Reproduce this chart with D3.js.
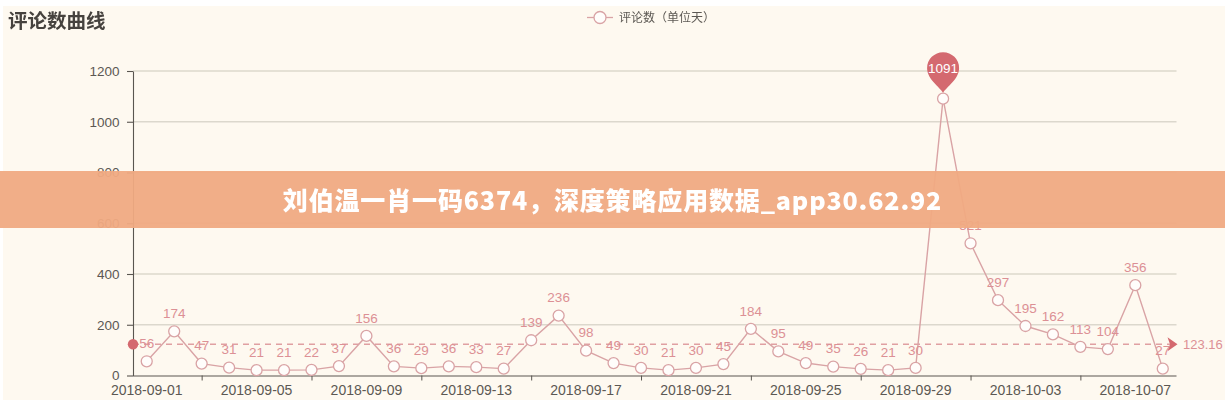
<!DOCTYPE html>
<html><head><meta charset="utf-8">
<script src="https://cdn.jsdelivr.net/npm/d3@7"></script>
<style>
html,body{margin:0;padding:0;background:#fff;overflow:hidden}
text{font-family:"Liberation Sans",Arial,sans-serif}
#c{filter:blur(0.35px)}
</style></head><body>
<svg id="c" width="1225" height="400"></svg>
<script>
const dates = d3.range(38).map(i => d3.timeFormat("%Y-%m-%d")(new Date(2018, 8, 1 + i)));
const reviewCounts = [56,174,47,31,21,21,22,37,156,36,29,36,33,27,139,236,98,49,30,21,30,45,184,95,49,35,26,21,30,1091,521,297,195,162,113,104,356,27];
const yTicks = [0,200,400,600,800,1000,1200];
const xLabelDates = dates.filter((d,i) => i % 4 === 0);
const xTickDates = dates.filter((d,i) => i % 4 === 2);
const meanValue = 123.16;
const titleText = "评论数曲线";
const legendText = "评论数（单位天）";
const bannerText = "刘伯温一肖一码6374，深度策略应用数据_app30.62.92";

const lineCol = "#d9a3a5", labelCol = "#dc9095", markCol = "#d4696f", axisCol = "#5a5650", textCol = "#5c5853";
const svg = d3.select("#c");
svg.append("rect").attr("x",3).attr("y",6).attr("width",1222).attr("height",394).attr("fill","#fef9f0");

const x = d3.scaleBand().domain(dates).range([133,1176.5]);
const y = d3.scaleLinear().domain([0,1200]).range([375.5,71]);
const cx = d => x(d) + x.bandwidth()/2;
const maxValue = d3.max(reviewCounts);
const maxIndex = reviewCounts.indexOf(maxValue);

// grid
svg.append("g").selectAll("line").data(yTicks.slice(1)).join("line")
  .attr("x1",x.range()[0]).attr("x2",x.range()[1])
  .attr("y1",d=>y(d)).attr("y2",d=>y(d))
  .attr("stroke","#dcd8cd").attr("stroke-width",1.3);

// axes
const yAxis = svg.append("g").attr("transform",`translate(${x.range()[0]},0)`)
  .call(d3.axisLeft(y).tickValues(yTicks).tickSize(6).tickPadding(7.5).tickSizeOuter(0).tickFormat(d3.format("d")));
yAxis.selectAll("line,path").attr("stroke",axisCol).attr("stroke-width",1.1);
yAxis.selectAll("text").attr("fill",textCol).attr("font-size",13.5);

const xAxisTicks = svg.append("g").attr("transform",`translate(0,${y(0)})`)
  .call(d3.axisBottom(d3.scalePoint().domain(dates).range([cx(dates[0]),cx(dates[37])])).tickValues(xTickDates).tickSize(5).tickSizeOuter(0).tickFormat(""));
xAxisTicks.selectAll("line").attr("stroke",axisCol);
xAxisTicks.select("path").attr("d",`M${x.range()[0]},0.5H${x.range()[1]}`).attr("stroke",axisCol).attr("stroke-width",1.2);

svg.append("g").selectAll("text").data(xLabelDates).join("text")
  .attr("x",cx).attr("y",y(0)+19.5).attr("text-anchor","middle")
  .attr("font-size",14).attr("fill",textCol).text(d=>d);

// mean line
const mY = y(meanValue);
svg.append("line").attr("x1",x.range()[0]).attr("x2",x.range()[1]-6).attr("y1",mY).attr("y2",mY)
  .attr("stroke","#e0a0a2").attr("stroke-width",1.3).attr("stroke-dasharray","6,5");
svg.append("circle").attr("cx",x.range()[0]).attr("cy",mY).attr("r",5.2).attr("fill",markCol);
svg.append("path").attr("transform",`translate(${x.range()[1]},${mY})`)
  .attr("d","M-9,-7L1,0L-9,7L-6.5,0Z").attr("fill",markCol);
svg.append("text").attr("x",1183).attr("y",mY+0.5).attr("dy","0.35em").attr("font-size",13)
  .attr("fill",labelCol).text(meanValue);

// series
const line = d3.line().x((d,i)=>cx(dates[i])).y(d=>y(d));
svg.append("path").datum(reviewCounts).attr("d",line).attr("fill","none").attr("stroke",lineCol).attr("stroke-width",1.4);
svg.append("g").selectAll("circle").data(reviewCounts).join("circle")
  .attr("cx",(d,i)=>cx(dates[i])).attr("cy",d=>y(d)).attr("r",5.5)
  .attr("fill","#fffdfb").attr("stroke",lineCol).attr("stroke-width",1.3);
svg.append("g").selectAll("text").data(reviewCounts.map((v,i)=>({v,i})).filter(d=>d.i!==maxIndex)).join("text")
  .attr("x",d=>cx(dates[d.i])).attr("y",d=>y(d.v)-18).attr("dy","0.35em")
  .attr("text-anchor","middle").attr("font-size",13.5).attr("fill",labelCol).text(d=>d.v);

// max pin
const pin = svg.append("g").attr("transform",`translate(${cx(dates[maxIndex])},${y(maxValue)-30.5})`);
pin.append("path").attr("d","M0,24.5C-3,19 -16,11 -16,0A16,16 0 1 1 16,0C16,11 3,19 0,24.5Z").attr("fill",markCol);
pin.append("text").attr("text-anchor","middle").attr("dy","0.35em").attr("font-size",13.5).attr("fill","#fff").text(maxValue);

// title and legend
svg.append("text").attr("x",8).attr("y",28).attr("font-size",19.5).attr("font-weight","bold")
  .attr("fill","#46423e").style("font-family",'"Noto Sans CJK SC"').text(titleText);
svg.append("line").attr("x1",587).attr("x2",613).attr("y1",17.5).attr("y2",17.5).attr("stroke",lineCol).attr("stroke-width",1.3);
svg.append("circle").attr("cx",600).attr("cy",17.5).attr("r",6).attr("fill","#fffdfb").attr("stroke",lineCol).attr("stroke-width",1.3);
svg.append("text").attr("x",619).attr("y",21.5).attr("font-size",12).attr("fill",textCol)
  .style("font-family",'"Noto Sans CJK SC"').text(legendText);

// banner
svg.append("rect").attr("x",0).attr("y",171).attr("width",1225).attr("height",57).attr("fill","#f0aa82").attr("fill-opacity",0.95);
svg.append("text").attr("x",612.5).attr("y",200.5).attr("dy","0.36em").attr("text-anchor","middle")
  .attr("font-size",25).attr("font-weight",900).attr("letter-spacing",0.85).attr("fill","#fff")
  .style("font-family",'"Noto Sans CJK SC"').text(bannerText);
</script>
</body></html>
